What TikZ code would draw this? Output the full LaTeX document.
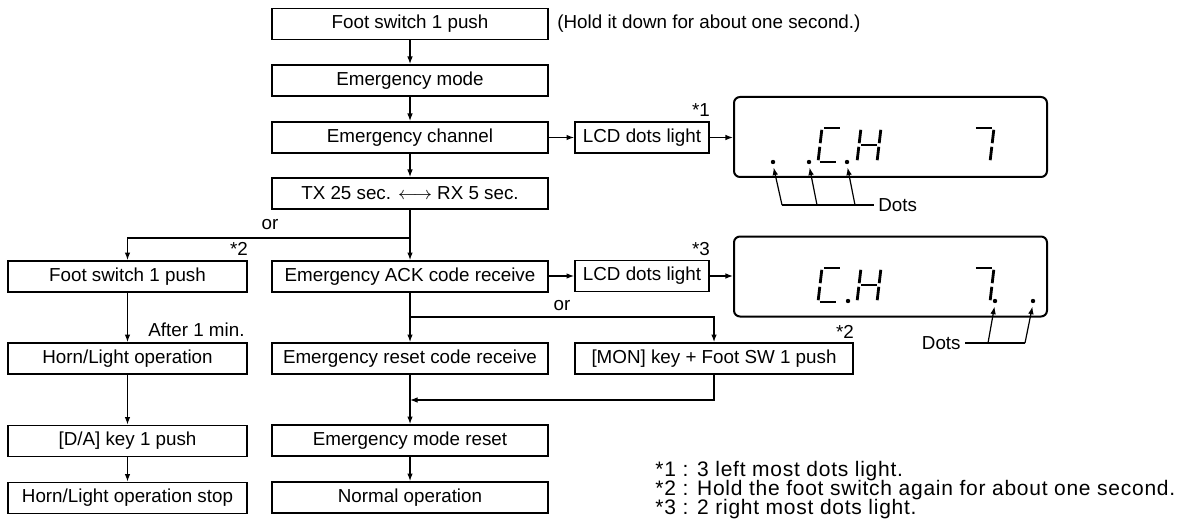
\documentclass[tikz,border=0pt]{standalone}
\usepackage{fontspec}
\setmainfont{Liberation Sans}
\newfontfamily\notefont[LetterSpace=3.5]{Liberation Sans}
\usetikzlibrary{arrows.meta}
\newcommand\mySegA{\draw[seg] (4,-34) -- (24,-34);}
\newcommand\mySegB{\draw[seg] (24,-34) -- (22,-17);}
\newcommand\mySegC{\draw[seg] (22,-17) -- (20,0);}
\newcommand\mySegD{\draw[seg] (0,0) -- (20,0);}
\newcommand\mySegE{\draw[seg] (0,0) -- (2,-17);}
\newcommand\mySegF{\draw[seg] (2,-17) -- (4,-34);}
\newcommand\mySegG{\draw[seg] (2,-17) -- (22,-17);}
\newcommand\sevseg[3]{%
  \begin{scope}[shift={(#1,#2)}]
    \foreach \s in {#3}{\csname mySeg\s\endcsname}
  \end{scope}}
\begin{document}
\begin{tikzpicture}[x=0.5pt,y=-0.5pt,
  txt/.style={font=\fontsize{9.4}{11}\selectfont},
  box/.style={draw,line width=0.9pt,minimum height=15.5pt,inner sep=0pt,txt},
  mainbox/.style={box,minimum width=138pt},
  leftbox/.style={box,minimum width=119.5pt},
  conn/.style={line width=0.6pt,-{Latex[length=3.8pt,width=2.8pt]}},
  ln/.style={line width=0.6pt},
  lbl/.style={txt,inner sep=0pt},
  disp/.style={draw,line width=1pt,rounded corners=3pt,minimum width=156.5pt,minimum height=40pt,inner sep=0pt},
  seg/.style={line width=1.4pt,shorten <=0.9pt,shorten >=0.9pt},
  dot/.style={circle,fill,inner sep=0pt,minimum size=2.2pt},
  note/.style={font=\notefont\fontsize{10.5}{12}\selectfont,anchor=west,inner sep=0pt}]
\useasboundingbox (0,0) rectangle (1189,519);

% main column
\node[mainbox] (fs)  at (410,24)    {Foot switch 1 push};
\node[mainbox] (em)  at (410,80.5)  {Emergency mode};
\node[mainbox] (ch)  at (410,137.5) {Emergency channel};
\node[mainbox] (tx)  at (410,193.5) {TX 25 sec. $\longleftrightarrow$ RX 5 sec.};
\node[mainbox] (ack) at (410,276.5) {Emergency ACK code receive};
\node[mainbox] (rst) at (410,358.5) {Emergency reset code receive};
\node[mainbox] (mr)  at (410,440.5) {Emergency mode reset};
\node[mainbox] (no)  at (410,497.5) {Normal operation};

% left column
\node[leftbox] (lfs)  at (127.5,276.5) {Foot switch 1 push};
\node[leftbox] (horn) at (127.5,358.5) {Horn/Light operation};
\node[leftbox] (da)   at (127.5,441)   {[D/A] key 1 push};
\node[leftbox] (stop) at (127.5,498)   {Horn/Light operation stop};

% right boxes
\node[box,minimum width=67pt]  (lcd1) at (642,137.5) {LCD dots light};
\node[box,minimum width=67pt]  (lcd2) at (642,276)   {LCD dots light};
\node[box,minimum width=139pt] (mon)  at (714,358.5) {[MON] key + Foot SW 1 push};

% displays
\node[disp] (d1) at (890.5,137)   {};
\node[disp] (d2) at (890.5,276.5) {};

% labels
\node[lbl,anchor=west] (hold) at (557,24) {(Hold it down for about one second.)};
\node[lbl] (s1)  at (701,110) {*1};
\node[lbl] (s3)  at (701,249) {*3};
\node[lbl] (s2a) at (239,249) {*2};
\node[lbl] (s2b) at (845,332) {*2};
\node[lbl] (or1) at (270,225) {or};
\node[lbl] (or2) at (562,306) {or};
\node[lbl,anchor=west] (after) at (148,330) {After 1 min.};

% connectors main
\draw[conn] (fs) -- (em);
\draw[conn] (em) -- (ch);
\draw[conn] (ch) -- (tx);
\draw[conn] (tx) -- (ack);
\draw[conn] (ack) -- (rst);
\draw[conn] (rst) -- (mr);
\draw[conn] (mr) -- (no);
\draw[conn] (ch.east) -- (lcd1.west);
\draw[conn] (lcd1.east) -- (d1.west |- lcd1.east);
\draw[conn] (ack.east |- lcd2.west) -- (lcd2.west);
\draw[conn] (lcd2.east) -- (d2.west |- lcd2.east);
\coordinate (j1) at (410,238);
\draw[conn] (j1) -| (lfs.north);
\coordinate (j2) at (410,317);
\draw[conn] (j2) -| (mon.north);
\coordinate (j3) at (410,400);
\draw[conn] (mon.south) |- (j3);

% left connectors
\draw[conn] (lfs) -- (horn);
\draw[conn] (horn) -- (da);
\draw[conn] (da) -- (stop);

% display 1 glyphs
\sevseg{818}{162}{A,D,E,F}
\sevseg{857}{162}{B,C,E,F,G}
\sevseg{970}{162}{A,B,C}
\node[dot] (p1) at (773,162) {};
\node[dot] (p2) at (809,162) {};
\node[dot] (p3) at (847,162) {};
% display 2 glyphs
\sevseg{818}{302}{A,D,E,F}
\sevseg{857}{302}{B,C,E,F,G}
\sevseg{970}{302}{A,B,C}
\node[dot] (q1) at (848,301) {};
\node[dot] (q2) at (995,301) {};
\node[dot] (q3) at (1033,301) {};

% dots leaders 1
\node[lbl,anchor=west,inner sep=2pt] (dots1) at (874,205) {Dots};
\coordinate (l1a) at (782,205);
\coordinate (l1b) at (817,205);
\coordinate (l1c) at (855,205);
\draw[ln] (l1a) -- (dots1.west);
\draw[conn,shorten >=1.5pt] (l1a) -- (p1.south);
\draw[conn,shorten >=1.5pt] (l1b) -- (p2.south);
\draw[conn,shorten >=1.5pt] (l1c) -- (p3.south);

% dots leaders 2
\node[lbl,anchor=east,inner sep=2pt] (dots2) at (965,343) {Dots};
\coordinate (l2a) at (988,343);
\coordinate (l2b) at (1025,343);
\draw[ln] (dots2.east) -- (l2b);
\draw[conn,shorten >=1.5pt] (l2a) -- (q2.south);
\draw[conn,shorten >=1.5pt] (l2b) -- (q3.south);

% footnotes
\node[note] (f1) at (655,471) {*1 : 3 left most dots light.};
\node[note] (f2) at (655,490) {*2 : Hold the foot switch again for about one second.};
\node[note] (f3) at (655,509) {*3 : 2 right most dots light.};
\end{tikzpicture}
\end{document}
